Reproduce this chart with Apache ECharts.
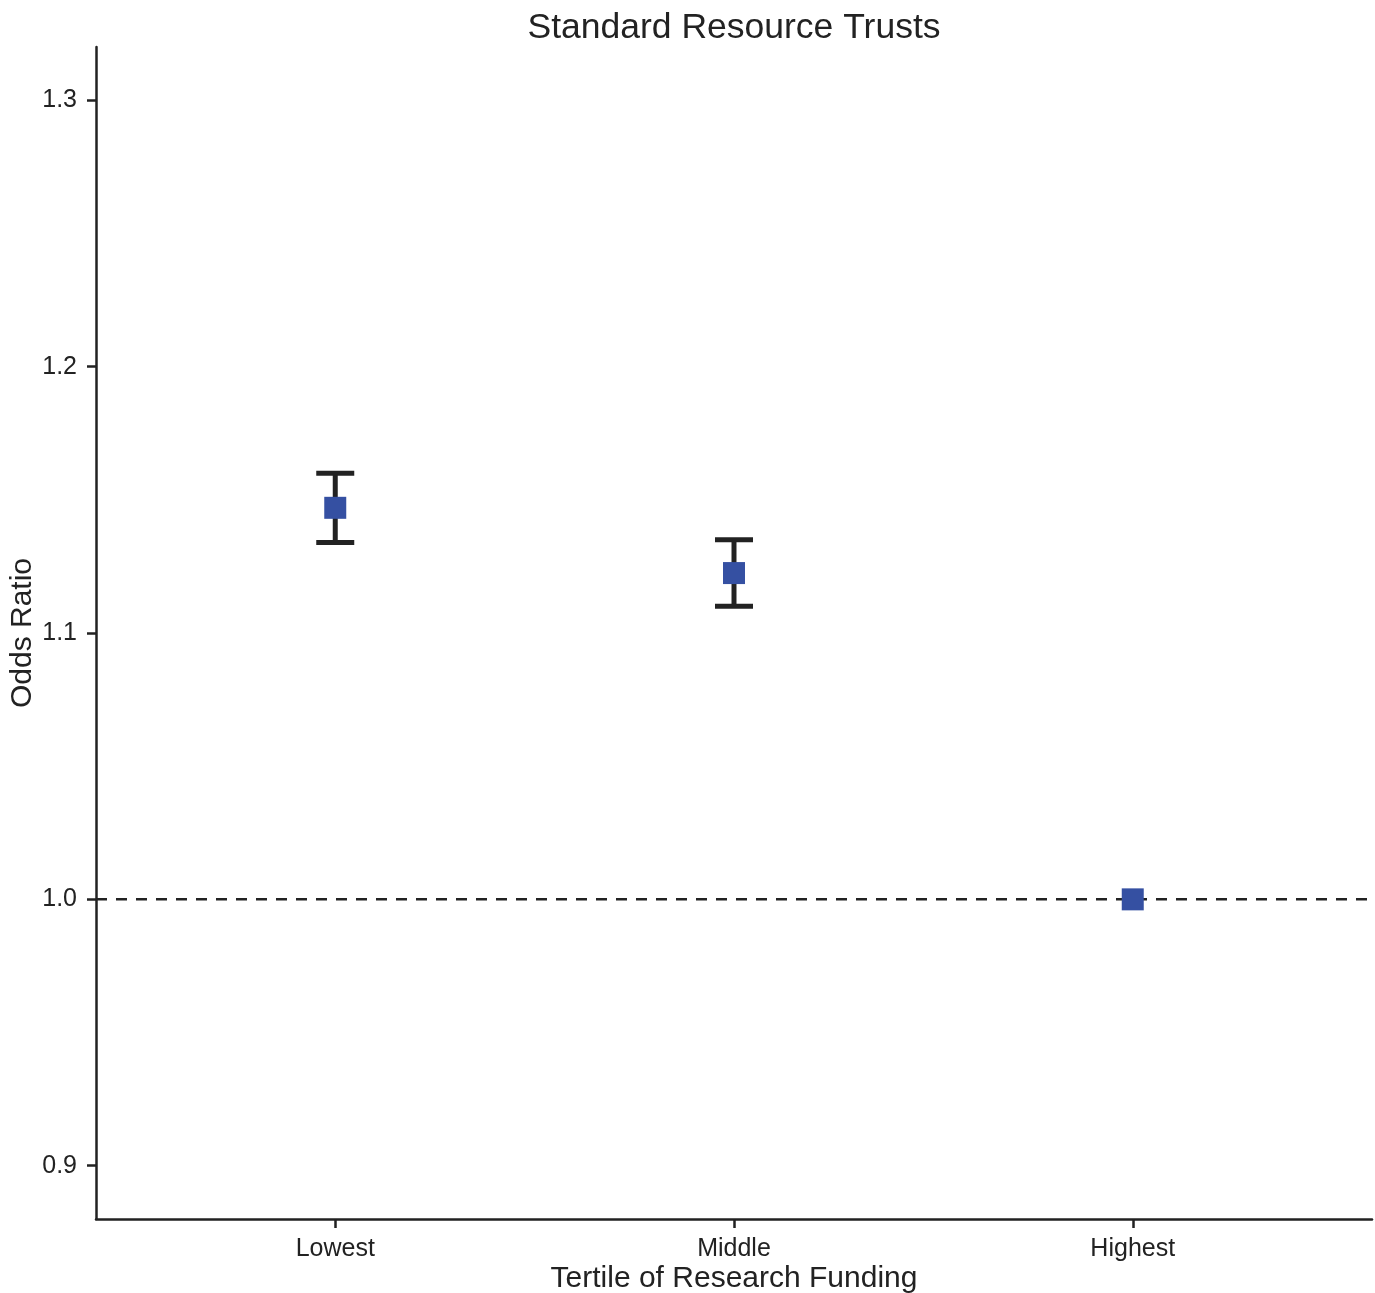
<!DOCTYPE html>
<html>
<head>
<meta charset="utf-8">
<script src="https://cdn.jsdelivr.net/npm/echarts@6/dist/echarts.min.js"></script>
<style>
html,body{margin:0;padding:0;background:#fff;}
#chart{width:1375px;height:1293px;}
</style>
</head>
<body>
<div id="chart"></div>
<script>
const categories = ['Lowest', 'Middle', 'Highest'];
const oddsRatio = [1.147, 1.1225, 1.0];
const ciLower = [1.134, 1.110, null];
const ciUpper = [1.160, 1.135, null];
const yTicks = [0.9, 1.0, 1.1, 1.2, 1.3];
const xPositions = [1, 2, 3];
const referenceLine = 1.0;

const font = 'Liberation Sans, Arial, Helvetica, sans-serif';
const chart = echarts.init(document.getElementById('chart'));

const errData = [];
const ptData = [];
for (let i = 0; i < categories.length; i++) {
  ptData.push([xPositions[i], oddsRatio[i]]);
  if (ciLower[i] != null) errData.push([xPositions[i], ciLower[i], ciUpper[i]]);
}

chart.setOption({
  animation: false,
  backgroundColor: '#fff',
  title: {
    text: 'Standard Resource Trusts',
    left: 729, textAlign: 'center', top: 5,
    textStyle: {fontFamily: font, fontSize: 35.5, fontWeight: 'normal', color: '#222'}
  },
  grid: {left: 96, right: 3, top: 47, bottom: 74, containLabel: false, outerBoundsMode: 'none'},
  xAxis: {
    type: 'value', min: 0.4, max: 3.6,
    name: 'Tertile of Research Funding', nameLocation: 'middle', nameGap: 45,
    nameMoveOverlap: false,
    nameTextStyle: {fontFamily: font, fontSize: 30, color: '#222'},
    axisLine: {show: true, lineStyle: {color: '#222', width: 2.5}},
    axisTick: {show: true, length: 9, lineStyle: {color: '#222', width: 2.5}, customValues: xPositions},
    axisLabel: {
      customValues: xPositions, margin: 18,
      fontFamily: font, fontSize: 25, color: '#222',
      formatter: v => categories[Math.round(v) - 1]
    },
    splitLine: {show: false}
  },
  yAxis: {
    type: 'value', min: 0.88, max: 1.32,
    name: 'Odds Ratio', nameLocation: 'middle', nameGap: 58,
    nameMoveOverlap: false,
    nameTextStyle: {fontFamily: font, fontSize: 30, color: '#222'},
    axisLine: {show: true, lineStyle: {color: '#222', width: 2.5}},
    axisTick: {show: true, length: 9, lineStyle: {color: '#222', width: 2.5}, customValues: yTicks},
    axisLabel: {
      customValues: yTicks, margin: 19,
      fontFamily: font, fontSize: 25, color: '#222',
      formatter: v => v.toFixed(1)
    },
    splitLine: {show: false}
  },
  series: [
    {
      type: 'line',
      data: [[0.4, referenceLine], [3.6, referenceLine]],
      symbol: 'none',
      lineStyle: {color: '#222', width: 2.5, type: [11, 9]},
      z: 1
    },
    {
      type: 'custom',
      data: errData,
      z: 2,
      renderItem: function (params, api) {
        const x = api.value(0);
        const lo = api.coord([x, api.value(1)]);
        const hi = api.coord([x, api.value(2)]);
        const hw = 19;
        const style = {stroke: '#222', lineWidth: 5, fill: null};
        return {
          type: 'group',
          children: [
            {type: 'line', shape: {x1: lo[0], y1: lo[1], x2: hi[0], y2: hi[1]}, style: style},
            {type: 'line', shape: {x1: lo[0] - hw, y1: lo[1], x2: lo[0] + hw, y2: lo[1]}, style: style},
            {type: 'line', shape: {x1: hi[0] - hw, y1: hi[1], x2: hi[0] + hw, y2: hi[1]}, style: style}
          ]
        };
      }
    },
    {
      type: 'scatter',
      data: ptData,
      symbol: 'rect',
      symbolSize: 22,
      itemStyle: {color: '#3550A2', opacity: 1},
      z: 3
    }
  ]
});
</script>
</body>
</html>
